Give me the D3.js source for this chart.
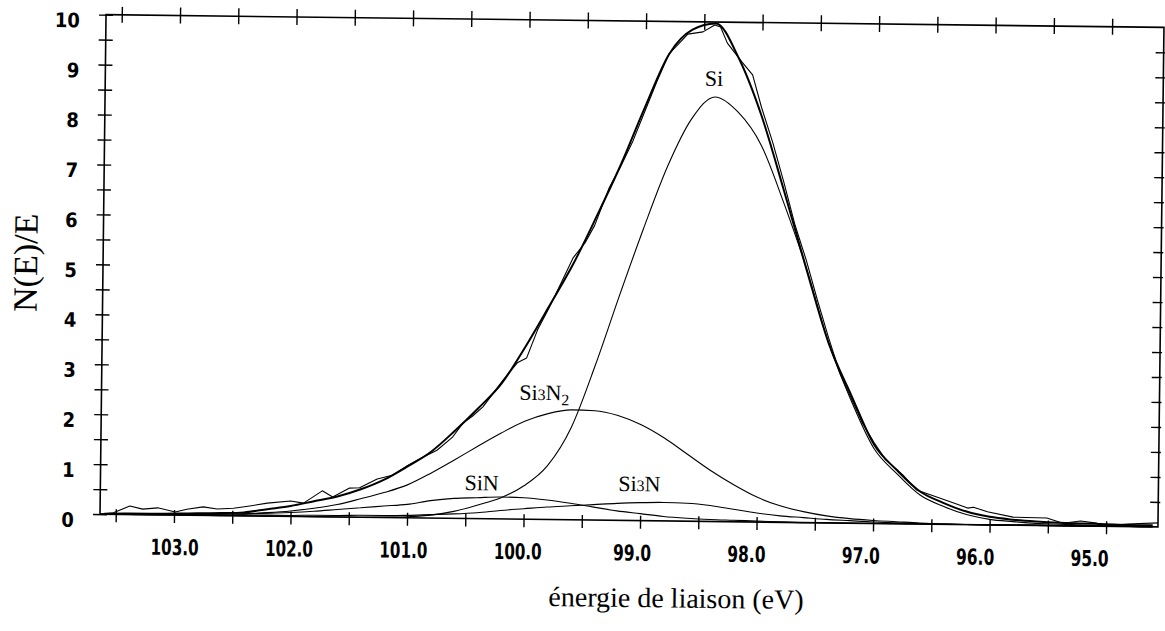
<!DOCTYPE html>
<html><head><meta charset="utf-8">
<script src="https://cdn.jsdelivr.net/npm/d3@7"></script>
<style>body{margin:0;background:#fff}svg{display:block}</style>
</head><body>
<svg id="chart" width="1165" height="631"></svg>
<script>
// ---------- data ----------
const energyGrid = [103.6,103.4,103.2,103.0,102.8,102.6,102.4,102.2,102.0,101.8,101.6,101.4,101.2,101.0,100.8,100.6,100.4,100.2,100.0,99.8,99.6,99.4,99.2,99.0,98.8,98.6,98.4,98.2,98.0,97.8,97.6,97.4,97.2,97.0,96.8,96.6,96.4,96.2,96.0,95.8,95.6,95.4,95.2,95.0,94.8,94.6];
const envelopeFit = [0.01,0.02,0.02,0.03,0.04,0.05,0.07,0.14,0.21,0.31,0.41,0.56,0.76,1.03,1.33,1.75,2.21,2.72,3.46,4.28,5.12,6.10,7.13,8.28,9.34,9.84,9.97,9.28,8.14,6.65,5.09,3.60,2.56,1.58,1.07,0.65,0.43,0.26,0.16,0.11,0.08,0.06,0.05,0.04,0.03,0.03];
const siPeak = [0,0,0,0,0,0,0,0,0,0,0,0,0.01,0.02,0.06,0.14,0.27,0.42,0.67,1.08,1.85,3.1,4.5,5.85,7.1,8.05,8.5,8.2,7.55,6.4,5.1,3.6,2.45,1.5,1.0,0.58,0.36,0.2,0.11,0.07,0.04,0.03,0.02,0.01,0.01,0];
const si3n2Peak = [0,0,0.01,0.01,0.02,0.03,0.04,0.07,0.11,0.17,0.25,0.37,0.5,0.66,0.9,1.17,1.45,1.72,1.96,2.12,2.2,2.19,2.1,1.92,1.66,1.34,1.02,0.74,0.5,0.33,0.22,0.14,0.09,0.06,0.04,0.02,0.01,0,0,0,0,0,0,0,0,0];
const sinPeak = [0,0,0.01,0.01,0.02,0.03,0.04,0.06,0.08,0.11,0.15,0.19,0.23,0.27,0.35,0.40,0.42,0.44,0.43,0.39,0.33,0.26,0.19,0.14,0.09,0.06,0.04,0.03,0.02,0.01,0,0,0,0,0,0,0,0,0,0,0,0,0,0,0,0];
const si3nPeak = [0,0,0,0.01,0.01,0.01,0.02,0.02,0.02,0.03,0.03,0.04,0.04,0.05,0.07,0.09,0.12,0.17,0.21,0.25,0.28,0.31,0.34,0.36,0.37,0.36,0.32,0.25,0.18,0.13,0.10,0.07,0.05,0.03,0.02,0.01,0,0,0,0,0,0,0,0,0,0];
const rawEnergy = [103.64,103.52,103.38,103.27,103.14,102.99,102.89,102.75,102.63,102.49,102.35,102.20,102.00,101.89,101.73,101.64,101.50,101.41,101.26,101.13,101.0,100.90,100.75,100.62,100.53,100.45,100.36,100.19,100.07,99.99,99.90,99.80,99.70,99.60,99.50,99.42,99.30,99.20,99.10,99.00,98.90,98.80,98.72,98.64,98.51,98.41,98.36,98.30,98.17,98.08,98.00,97.90,97.80,97.70,97.60,97.50,97.40,97.30,97.20,97.10,97.00,96.90,96.75,96.63,96.45,96.31,96.19,96.14,96.02,95.80,95.51,95.37,95.22,95.08,95.03,94.82,94.55];
const rawCounts = [0.0,0.03,0.17,0.11,0.14,0.06,0.12,0.17,0.13,0.15,0.20,0.26,0.31,0.27,0.52,0.40,0.58,0.59,0.77,0.85,1.05,1.18,1.36,1.62,1.91,2.05,2.24,2.78,3.13,3.23,3.79,4.25,4.75,5.25,5.55,5.90,6.65,7.10,7.60,8.20,8.80,9.35,9.55,9.75,9.80,9.94,9.90,9.58,9.20,8.95,8.30,7.60,6.80,5.95,5.25,4.45,3.70,3.00,2.50,2.00,1.62,1.28,0.98,0.68,0.54,0.43,0.33,0.35,0.26,0.16,0.15,0.05,0.10,0.06,0.0,0.05,0.08];
const xTickValues = [103.5,103.0,102.5,102.0,101.5,101.0,100.5,100.0,99.5,99.0,98.5,98.0,97.5,97.0,96.5,96.0,95.5,95.0];
const xTickLabels = ["103.0","102.0","101.0","100.0","99.0","98.0","97.0","96.0","95.0"];
const xLabelValues = [103,102,101,100,99,98,97,96,95];
const yTickValues = [0,0.5,1,1.5,2,2.5,3,3.5,4,4.5,5,5.5,6,6.5,7,7.5,8,8.5,9,9.5,10];
const yTickLabels = ["0","1","2","3","4","5","6","7","8","9","10"];
const yLabelValues = [0,1,2,3,4,5,6,7,8,9,10];
const peakLabels = [
  {parts:[["Si","n"]], e:98.41, v:8.72, anchor:"middle"},
  {parts:[["Si","n"],["3","s"],["N","n"],["2","sub"]], e:100.05, v:2.39, anchor:"start"},
  {parts:[["SiN","n"]], e:100.51, v:0.57, anchor:"start"},
  {parts:[["Si","n"],["3","s"],["N","n"]], e:99.19, v:0.59, anchor:"start"}
];
const xTitle = "énergie de liaison (eV)";
const yTitle = "N(E)/E";

// ---------- layout ----------
const svg = d3.select("#chart");
const root = svg.append("g").attr("transform","rotate(0.69 630 270)");
const x = d3.scaleLinear().domain([103.635, 94.555]).range([103, 1161]);
const xLab = d3.scaleLinear().domain([103, 95]).range([178, 1093]);
const y = d3.scaleLinear().domain([0, 10]).range([520.5, 21]);
const tickFont = "'Liberation Sans Narrow','DejaVu Sans Condensed','Arial Narrow',sans-serif";
const serif = "'Liberation Serif','Times New Roman',Times,serif";

const [x0, x1] = x.range();
const [yb, yt] = y.range();
root.append("path")
  .attr("d", `M${x0},${yb}H${x1}V${yt}H${x0}Z`)
  .attr("fill","none").attr("stroke","#000").attr("stroke-width",1.6);

const gBottom = root.append("g").attr("transform",`translate(0,${yb})`)
  .call(d3.axisBottom(x).tickValues(xTickValues).tickSize(8).tickFormat(""));
gBottom.select(".domain").remove();
gBottom.selectAll(".tick line").attr("y1",-5).attr("y2",8).attr("stroke-width",1.4);
const gTop = root.append("g").attr("transform",`translate(0,${yt})`)
  .call(d3.axisTop(x).tickValues(xTickValues).tickSize(8).tickFormat(""));
gTop.select(".domain").remove();
gTop.selectAll(".tick line").attr("y1",-8).attr("y2",8).attr("stroke-width",1.4);
const gLeft = root.append("g").attr("transform",`translate(${x0},0)`)
  .call(d3.axisLeft(y).tickValues(yTickValues).tickSize(7).tickFormat(""));
gLeft.select(".domain").remove();
gLeft.selectAll(".tick line").attr("x1",-7).attr("x2",7).attr("stroke-width",1.4);
const gRight = root.append("g").attr("transform",`translate(${x1},0)`)
  .call(d3.axisRight(y).tickValues(yTickValues.filter(v=>v>0 && v<10)).tickSize(8).tickFormat(""));
gRight.select(".domain").remove();
gRight.selectAll(".tick line").attr("x1",-8).attr("x2",2).attr("stroke-width",1.4);

root.append("g").selectAll("text").data(xLabelValues).join("text")
  .attr("x", d => xLab(d)).attr("y", yb + 40)
  .attr("text-anchor","middle")
  .attr("font-family", tickFont).attr("font-weight","bold").attr("font-size",22)
  .attr("textLength", (d,i) => xTickLabels[i].length === 5 ? 48 : 38)
  .attr("lengthAdjust","spacingAndGlyphs")
  .text((d,i) => xTickLabels[i]);
root.append("g").selectAll("text").data(yLabelValues).join("text")
  .attr("x", 77).attr("y", d => y(d) + 13)
  .attr("text-anchor","end")
  .attr("font-family", tickFont).attr("font-weight","bold").attr("font-size",20)
  .text((d,i) => yTickLabels[i]);

const line = d3.line().x(d => x(d[0])).y(d => y(d[1])).curve(d3.curveMonotoneX);
const rawLine = d3.line().x(d => x(d[0])).y(d => y(d[1]));
svg.append("defs").append("clipPath").attr("id","plotclip")
  .append("rect").attr("x",x0).attr("y",yt-2).attr("width",x1-x0).attr("height",yb-yt+4);
const plot = root.append("g").attr("clip-path","url(#plotclip)");
[siPeak, si3n2Peak, sinPeak, si3nPeak].forEach(vals => {
  plot.append("path").datum(energyGrid.map((e,i)=>[e, vals[i]]))
    .attr("d", line).attr("fill","none").attr("stroke","#000").attr("stroke-width",1.1);
});
plot.append("path").datum(rawEnergy.map((e,i)=>[e, rawCounts[i]]))
  .attr("d", rawLine).attr("fill","none").attr("stroke","#000").attr("stroke-width",1.1)
  .attr("stroke-linejoin","round");
plot.append("path").datum(energyGrid.map((e,i)=>[e, envelopeFit[i]]))
  .attr("d", line).attr("fill","none").attr("stroke","#000").attr("stroke-width",2);

peakLabels.forEach(lb => {
  const t = root.append("text")
    .attr("x", x(lb.e)).attr("y", y(lb.v))
    .attr("text-anchor", lb.anchor)
    .attr("font-family", serif).attr("font-size", 22);
  lb.parts.forEach(([s, kind]) => {
    const ts = t.append("tspan").text(s);
    if (kind === "s") ts.attr("font-size", 16);
    if (kind === "sub") ts.attr("font-size", 16).attr("dy", 5);
  });
});

root.append("text").attr("x", 680).attr("y", 607)
  .attr("text-anchor","middle").attr("font-family", serif).attr("font-size", 28)
  .text(xTitle);
root.append("text").attr("transform","translate(37,270) rotate(-90)")
  .attr("text-anchor","middle").attr("font-family", serif).attr("font-size", 34)
  .text(yTitle);
</script>
</body></html>
